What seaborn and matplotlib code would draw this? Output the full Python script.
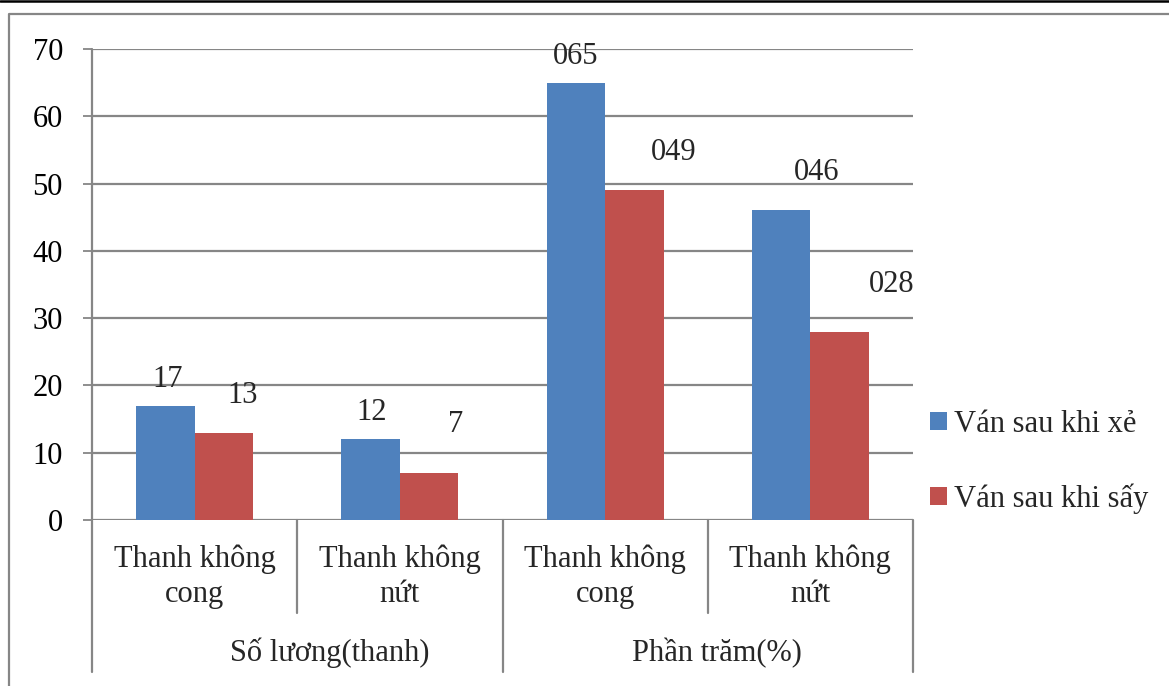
import matplotlib
matplotlib.use("Agg")
import matplotlib.pyplot as plt
import seaborn as sns
import pandas as pd
from matplotlib.lines import Line2D
import matplotlib.transforms as mtransforms

# ---- data ----
group_names = ["Số lương(thanh)", "Phần trăm(%)"]
categories = ["Thanh không cong", "Thanh không nứt", "Thanh không cong", "Thanh không nứt"]
category_group = [0, 0, 1, 1]
series_names = ["Ván sau khi xẻ", "Ván sau khi sấy"]
after_sawing = [17, 12, 65, 46]
after_drying = [13, 7, 49, 28]
label_formats = ["{:.0f}", "{:.0f}", "{:03.0f}", "{:03.0f}"]

# ---- styling ----
colors = ["#4F81BD", "#C0504D"]
grid_color = "#868686"
FS = 22
W, H = 1169, 686

sns.set_theme(style="white")
plt.rcParams["font.family"] = ["Liberation Serif", "DejaVu Serif"]

keys = [f"c{i}" for i in range(len(categories))]
df = pd.DataFrame({
    "key": keys * 2,
    "series": [series_names[0]] * 4 + [series_names[1]] * 4,
    "value": after_sawing + after_drying,
})

fig = plt.figure(figsize=(W / 100, H / 100), dpi=100)
ax = fig.add_axes([92 / W, 1 - 520 / H, (913 - 92) / W, 471 / H])

sns.barplot(data=df, x="key", y="value", hue="series", order=keys,
            hue_order=series_names, palette=colors, width=0.571, gap=0,
            saturation=1, linewidth=0, ax=ax)

ax.set_xlim(-0.5, len(keys) - 0.5)
ax.set_ylim(0, 70)
ax.set_yticks(range(0, 71, 10))
ax.set_xlabel("")
ax.set_ylabel("")
ax.set_xticks([])
ax.yaxis.grid(True, color=grid_color, lw=1.6)
ax.set_axisbelow(True)
for s in ax.spines.values():
    s.set_visible(False)
ax.tick_params(axis="y", which="both", left=True, length=6.5, width=1.3,
               color=grid_color, pad=14.4, labelsize=FS, labelcolor="black")

# left axis line, extended down through the category area
ax.add_line(Line2D([0, 0], [1, (520 - 672) / 471], transform=ax.transAxes,
                   color=grid_color, lw=1.6, clip_on=False))

# category separators
blend = mtransforms.blended_transform_factory(ax.transData, ax.transAxes)
y_inner = (520 - 613) / 471
y_outer = (520 - 672) / 471
for b in [0.5, 1.5, 2.5, 3.5]:
    is_outer = b in (1.5, 3.5)
    ax.add_line(Line2D([b, b], [0, y_outer if is_outer else y_inner],
                       transform=blend, color=grid_color, lw=1.6, clip_on=False))

# category labels (two lines)
for i, name in enumerate(categories):
    words = name.split()
    text = " ".join(words[:2]) + "\n" + " ".join(words[2:])
    ax.text(i, (520 - 545) / 471, text, transform=blend, ha="center", va="top",
            fontsize=FS, linespacing=1.27)

# group labels
group_shift = [0.156, 0.044]
for g, gname in enumerate(group_names):
    idx = [i for i, cg in enumerate(category_group) if cg == g]
    center = (idx[0] + idx[-1]) / 2 + group_shift[g]
    ax.text(center, (520 - 661) / 471, gname, transform=blend, ha="center",
            va="baseline", fontsize=FS)

# value labels, offset from the top of each bar (pixels)
label_dx = [[2, 1, 0, 36], [19, 26, 39, 52]]
label_dy = [[19, 19, 19, 30], [30, 41, 30, 40]]
for s, cont in enumerate(ax.containers):
    for i, bar in enumerate(cont):
        v = bar.get_height()
        ax.annotate(label_formats[i].format(v),
                    xy=(bar.get_x() + bar.get_width() / 2, v),
                    xytext=(label_dx[s][i] * 0.72, label_dy[s][i] * 0.72),
                    textcoords="offset points", ha="center", va="baseline",
                    fontsize=FS, annotation_clip=False)

# legend
handles, labels = ax.get_legend_handles_labels()
ax.legend(handles, labels, loc="upper left",
          bbox_to_anchor=(930 / W, 1 - 410 / H), bbox_transform=fig.transFigure,
          frameon=False, fontsize=FS, handlelength=0.55, handleheight=0.55,
          handletextpad=0.25, labelspacing=1.45, borderpad=0, borderaxespad=0)

# page frame lines
fig.add_artist(Line2D([0, 1], [1 - 1.2 / H, 1 - 1.2 / H], transform=fig.transFigure,
                      color="black", lw=1.8))
fig.add_artist(Line2D([9 / W, 9 / W, 1], [-0.01, 1 - 14 / H, 1 - 14 / H],
                      transform=fig.transFigure, color=grid_color, lw=1.6))

fig.savefig("out.png", dpi=100)
